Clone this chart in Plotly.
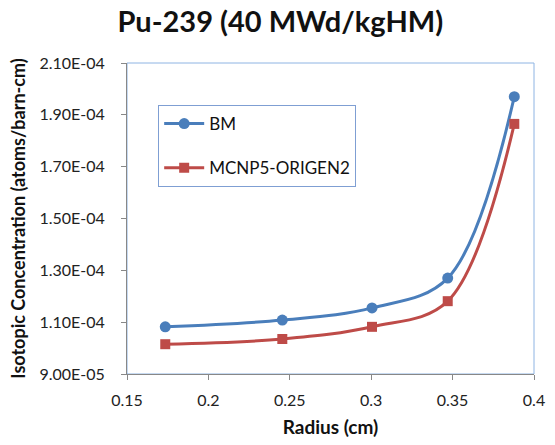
import plotly.graph_objects as go

radius = [0.1735, 0.2454, 0.3005, 0.3470, 0.3879]
bm = [1.082e-4, 1.108e-4, 1.155e-4, 1.270e-4, 1.970e-4]
mcnp = [1.015e-4, 1.035e-4, 1.082e-4, 1.181e-4, 1.865e-4]
yticks = [9.0e-5, 1.1e-4, 1.3e-4, 1.5e-4, 1.7e-4, 1.9e-4, 2.1e-4]
ytick_labels = ["9.00E-05", "1.10E-04", "1.30E-04", "1.50E-04", "1.70E-04", "1.90E-04", "2.10E-04"]
xticks = [0.15, 0.2, 0.25, 0.3, 0.35, 0.4]
xtick_labels = ["0.15", "0.2", "0.25", "0.3", "0.35", "0.4"]

FONT = "Lato"
blue = "#4A7EBB"
red = "#BE4B48"

fig = go.Figure()
fig.add_trace(go.Scatter(x=radius, y=bm, name="BM", mode="lines+markers",
                         line=dict(color=blue, width=3, shape="spline", smoothing=1),
                         marker=dict(symbol="circle", size=11, color=blue),
                         legendgroup="a"))
fig.add_trace(go.Scatter(x=radius, y=mcnp, name="MCNP5-ORIGEN2", mode="lines+markers",
                         line=dict(color=red, width=3, shape="spline", smoothing=1),
                         marker=dict(symbol="square", size=10, color=red),
                         legendgroup="b"))

fig.update_layout(
    width=555, height=445,
    margin=dict(l=127, r=10, t=63, b=70),
    paper_bgcolor="white", plot_bgcolor="white",
    font=dict(family=FONT, color="#222222"),
    title=dict(text="<b>Pu-239 (40 MWd/kgHM)</b>", x=0.505, xanchor="center",
               y=0.952, yanchor="middle", font=dict(size=29, family=FONT, color="#111111")),
    xaxis=dict(range=[0.15, 0.4], tickvals=xticks, ticktext=xtick_labels,
               showgrid=False, zeroline=False, showline=True, linecolor="#888888", linewidth=1,
               ticks="outside", ticklen=5, tickcolor="#888888", mirror=False,
               ticklabelstandoff=7, ticklabeloverflow="allow",
               tickfont=dict(size=16, family=FONT, color="#222222"),
               title=dict(text="<b>Radius (cm)</b>", font=dict(size=19, family=FONT, color="#111111"), standoff=12)),
    yaxis=dict(range=[9.0e-5, 2.1e-4], tickvals=yticks, ticktext=ytick_labels,
               showgrid=False, zeroline=False, showline=True, linecolor="#888888", linewidth=1,
               ticks="outside", ticklen=5, tickcolor="#888888",
               ticklabelstandoff=13,
               tickfont=dict(size=16, family=FONT, color="#222222"),
               title=dict(text="<b>Isotopic Concentration (atoms/barn-cm)</b>",
                          font=dict(size=18, family=FONT, color="#111111"), standoff=9)),
    legend=dict(x=0.0766, y=0.865, xanchor="left", yanchor="top",
                bordercolor="#7F9FD3", borderwidth=1, bgcolor="white",
                font=dict(size=17, family=FONT, color="#111111"),
                tracegroupgap=19, itemwidth=40),
    showlegend=True,
)
# plot-area outline (top and right in light blue)
fig.add_shape(type="rect", xref="paper", yref="paper", x0=0, y0=0, x1=1, y1=1,
              line=dict(color="#8EB4E3", width=1), layer="below")

fig.write_html("out.html")
